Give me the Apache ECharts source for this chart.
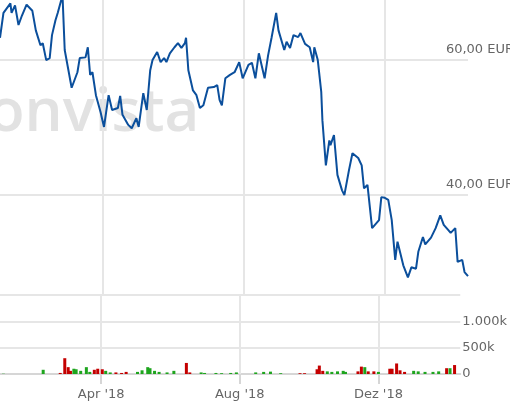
<!DOCTYPE html>
<html>
<head>
<meta charset="utf-8">
<script src="https://cdn.jsdelivr.net/npm/echarts@6/dist/echarts.min.js"></script>
<style>html,body{margin:0;padding:0;background:#fff}#chart{width:510px;height:410px}</style>
</head>
<body>
<div id="chart"></div>
<script>
// Kursverlauf (EUR)
var priceDates = ['2018-01-02','2018-01-05','2018-01-11','2018-01-12','2018-01-15','2018-01-18','2018-01-21','2018-01-25','2018-01-30','2018-02-02','2018-02-06','2018-02-08','2018-02-11','2018-02-14','2018-02-16','2018-02-19','2018-02-21','2018-02-24','2018-02-25','2018-02-27','2018-03-05','2018-03-10','2018-03-12','2018-03-17','2018-03-19','2018-03-21','2018-03-23','2018-03-26','2018-03-30','2018-04-02','2018-04-06','2018-04-09','2018-04-14','2018-04-16','2018-04-18','2018-04-23','2018-04-26','2018-04-30','2018-05-02','2018-05-06','2018-05-09','2018-05-12','2018-05-14','2018-05-18','2018-05-21','2018-05-24','2018-05-26','2018-05-29','2018-06-02','2018-06-05','2018-06-08','2018-06-11','2018-06-12','2018-06-14','2018-06-18','2018-06-21','2018-06-24','2018-06-27','2018-07-01','2018-07-06','2018-07-09','2018-07-11','2018-07-13','2018-07-16','2018-07-20','2018-07-24','2018-07-28','2018-07-31','2018-08-05','2018-08-08','2018-08-11','2018-08-14','2018-08-19','2018-08-22','2018-08-25','2018-08-29','2018-08-31','2018-09-05','2018-09-07','2018-09-10','2018-09-13','2018-09-17','2018-09-19','2018-09-23','2018-09-27','2018-09-30','2018-10-01','2018-10-04','2018-10-07','2018-10-08','2018-10-11','2018-10-14','2018-10-15','2018-10-18','2018-10-21','2018-10-25','2018-10-27','2018-10-31','2018-11-03','2018-11-08','2018-11-11','2018-11-13','2018-11-16','2018-11-20','2018-11-26','2018-11-28','2018-12-01','2018-12-04','2018-12-07','2018-12-10','2018-12-12','2018-12-17','2018-12-21','2018-12-24','2018-12-28','2018-12-30','2019-01-03','2019-01-05','2019-01-10','2019-01-14','2019-01-18','2019-01-21','2019-01-25','2019-01-27','2019-01-31','2019-02-02','2019-02-06','2019-02-08','2019-02-11'];
var priceValues = [63.3,67.0,68.4,67.0,68.1,65.2,66.6,68.2,67.3,64.4,62.2,62.5,60.0,60.3,63.7,65.9,67.0,68.9,70.0,61.5,55.9,58.2,60.3,60.4,61.9,57.8,58.2,54.8,52.3,50.1,54.8,52.6,52.9,54.7,51.9,50.4,49.9,51.4,50.1,55.1,52.6,58.5,60.0,61.2,59.7,60.3,59.7,61.0,61.9,62.5,61.8,62.5,63.3,58.5,55.5,54.8,52.9,53.3,55.9,56.0,56.3,54.1,53.3,57.3,57.8,58.2,59.7,57.3,59.3,59.6,57.3,61.0,57.3,60.7,63.3,67.0,64.4,61.5,62.7,61.8,63.7,63.4,64.0,62.4,61.9,59.7,61.9,60.0,55.3,51.1,44.4,48.1,47.4,48.9,43.0,40.7,40.0,43.7,46.2,45.5,44.4,41.0,41.5,35.1,36.3,39.7,39.6,39.3,36.3,30.4,33.1,29.6,27.8,29.3,29.1,31.6,33.8,32.7,33.7,35.1,37.0,35.6,34.8,34.4,35.1,30.1,30.4,28.6,28.0];

// Umsatz (Stück, in Tausend)
var volDates = ['2018-01-05','2018-02-09','2018-02-24','2018-02-28','2018-03-03','2018-03-05','2018-03-08','2018-03-10','2018-03-14','2018-03-19','2018-03-22','2018-03-26','2018-03-29','2018-04-02','2018-04-05','2018-04-09','2018-04-14','2018-04-19','2018-04-23','2018-05-03','2018-05-07','2018-05-12','2018-05-14','2018-05-18','2018-05-22','2018-05-29','2018-06-04','2018-06-15','2018-06-18','2018-06-28','2018-07-01','2018-07-11','2018-07-16','2018-07-24','2018-07-29','2018-08-15','2018-08-22','2018-08-28','2018-09-06','2018-09-23','2018-09-27','2018-10-08','2018-10-10','2018-10-13','2018-10-17','2018-10-21','2018-10-26','2018-10-31','2018-11-02','2018-11-13','2018-11-16','2018-11-19','2018-11-22','2018-11-27','2018-12-01','2018-12-11','2018-12-13','2018-12-17','2018-12-20','2018-12-24','2019-01-01','2019-01-05','2019-01-11','2019-01-18','2019-01-23','2019-01-30','2019-02-02','2019-02-06'];
var volValues = [5,80,20,300,130,60,100,90,60,130,40,80,100,90,60,30,30,20,40,40,70,130,110,60,40,30,60,210,30,30,20,20,15,20,30,30,40,45,15,15,15,90,160,60,50,40,50,60,40,50,140,130,50,50,40,100,100,200,70,40,60,50,40,40,50,110,110,170];
var volUp = [1,1,0,0,0,0,1,1,1,1,1,0,0,0,1,1,0,0,0,1,1,1,1,1,1,1,1,0,0,1,1,1,1,1,1,1,1,1,1,0,0,0,0,0,1,1,1,1,1,0,0,1,0,0,1,0,0,0,0,0,1,1,1,1,1,0,1,0];

var axisTicks = ['2018-04-01','2018-08-01','2018-12-01'];
var priceLevels = [40, 60];

function t(d) { return Date.parse(d + 'T00:00:00Z'); }
function fmtDate(v) {
    var d = new Date(v);
    var m = {3: "Apr", 7: "Aug", 11: "Dez"}[d.getUTCMonth()];
    return m + " '" + String(d.getUTCFullYear()).slice(2);
}

var chart = echarts.init(document.getElementById('chart'));
var gridLine = {color: '#e6e6e6', width: 2, type: 'solid'};
var xMin = t('2018-01-02'), xMax = t('2019-02-11');
var tickVals = axisTicks.map(t);

var priceData = [], volData = [];
for (var i = 0; i < priceDates.length; i++) priceData.push([t(priceDates[i]), priceValues[i]]);
for (var j = 0; j < volDates.length; j++) {
    volData.push({
        value: [t(volDates[j]), volValues[j]],
        itemStyle: {color: volUp[j] ? '#1ea51e' : '#c40000'}
    });
}

var vLines = tickVals.map(function (d) { return {xAxis: d}; });

chart.setOption({
    animation: false,
    graphic: [{
        type: 'text', left: -12, top: 84, z: 0,
        style: {text: 'onvista', font: '600 60px "Open Sans", sans-serif', fill: '#e2e2e2'}
    }],
    grid: [
        {left: 0, right: 42, top: 0, height: 295},
        {left: 0, right: 42, top: 295, height: 79}
    ],
    xAxis: [
        {gridIndex: 0, type: 'value', min: xMin, max: xMax, show: false},
        {
            gridIndex: 1, type: 'value', min: xMin, max: xMax,
            axisLine: {lineStyle: {color: '#d6d6d6', width: 2}},
            axisTick: {show: true, customValues: tickVals, length: 10, lineStyle: {color: '#d6d6d6', width: 2}},
            axisLabel: {customValues: tickVals, formatter: fmtDate, color: '#666', fontSize: 13, margin: 14, fontFamily: 'DejaVu Sans'},
            splitLine: {show: false}
        }
    ],
    yAxis: [
        {gridIndex: 0, type: 'value', min: 25.2, max: 68.9, show: false},
        {
            gridIndex: 1, type: 'value', min: 0, max: 1500, interval: 500, position: 'right',
            axisLine: {show: false}, axisTick: {show: false},
            axisLabel: {
                margin: 2, color: '#666', fontSize: 13, fontFamily: 'DejaVu Sans',
                formatter: function (v) { return v == 0 ? '0' : v == 500 ? '500k' : v == 1000 ? '1.000k' : ''; }
            },
            splitLine: {lineStyle: gridLine}
        }
    ],
    series: [
        {
            type: 'line', xAxisIndex: 0, yAxisIndex: 0, data: priceData, showSymbol: false, z: 3,
            lineStyle: {color: '#0b4f9c', width: 2},
            markLine: {
                silent: true, symbol: 'none', z: 1,
                lineStyle: gridLine,
                label: {show: false},
                data: vLines.concat(priceLevels.map(function (p) {
                    return {yAxis: p, label: {show: true, position: 'insideEndTop', formatter: p + ',00 EUR', color: '#666', fontSize: 13, fontFamily: 'DejaVu Sans', distance: [-46, 4]}};
                }))
            }
        },
        {
            type: 'bar', xAxisIndex: 1, yAxisIndex: 1, data: volData, barWidth: 3, z: 3,
            markLine: {silent: true, symbol: 'none', z: 1, lineStyle: gridLine, label: {show: false}, data: vLines}
        }
    ]
});
</script>
</body>
</html>
